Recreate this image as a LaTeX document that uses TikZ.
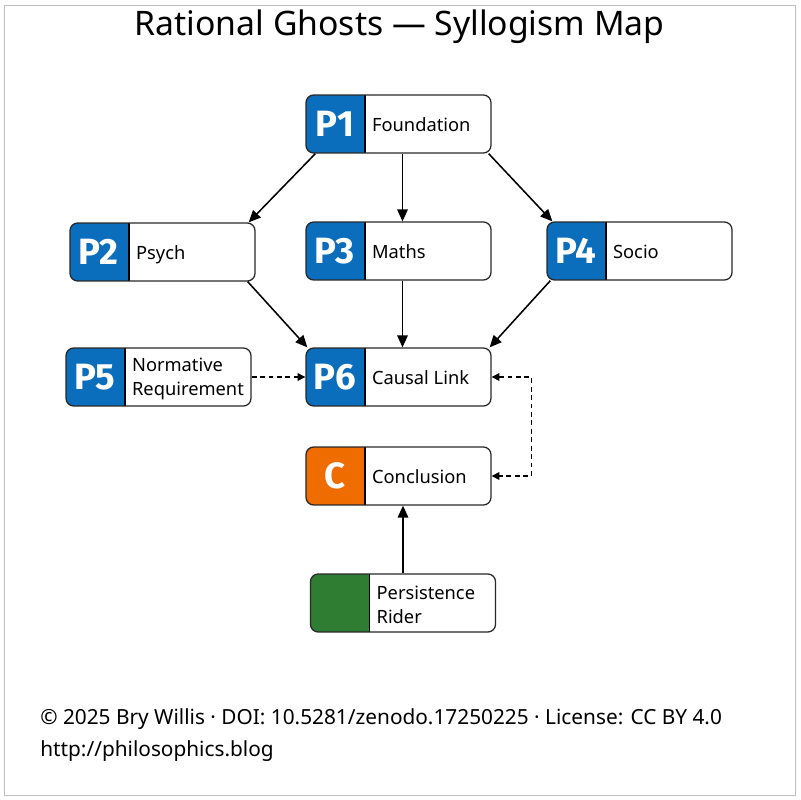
\documentclass[tikz,border=0pt]{standalone}
\usepackage{fontspec}
\setmainfont{Noto Sans}
\newfontfamily\tagfont{Fira Sans}
\usetikzlibrary{arrows.meta,calc}

\definecolor{pblue}{RGB}{10,110,189}
\definecolor{corange}{RGB}{239,108,0}
\definecolor{rgreen}{RGB}{46,125,50}
\definecolor{framegray}{RGB}{191,191,191}
\definecolor{boxline}{RGB}{40,40,40}

\tikzset{
  syl/.style={draw=boxline, line width=0.9pt, fill=white, rounded corners=5.5pt,
    minimum width=4.625cm, minimum height=1.45cm, inner sep=0pt,
    path picture={
      \fill[#1, sharp corners] (path picture bounding box.north west)
        rectangle ([xshift=1.475cm]path picture bounding box.south west);
      \draw[black, line width=0.9pt] ([xshift=1.475cm]path picture bounding box.north west)
        -- ([xshift=1.475cm]path picture bounding box.south west);}},
  tag/.style={text=white, inner sep=0pt, font=\fontsize{26}{30}\tagfont\bfseries},
  txt/.style={anchor=west, inner sep=0pt, text height=9.4pt, text depth=0pt,
    font=\fontsize{13}{17}\selectfont},
  txttwo/.style={anchor=west, align=left, inner sep=0pt, font=\fontsize{13}{17}\selectfont},
  foot/.style={anchor=base west, inner sep=0pt, font=\fontsize{14.8}{17}\selectfont},
  conn/.style={->, line width=1.1pt, >={Triangle[length=8.5pt,width=7.5pt]}},
  dconn/.style={draw, dash pattern=on 3.5pt off 2.5pt, line width=0.8pt,
    >={Triangle[length=5.5pt,width=5.5pt]}},
}

\begin{document}
\begin{tikzpicture}[x=0.025cm,y=-0.025cm]
\fill[white] (0,0) rectangle (800,800);
\useasboundingbox (0,0) rectangle (800,800);
\draw[framegray, line width=0.8pt] (4.5,5.5) rectangle (795.5,795.5);

\node(title) at (399.5,27) {\fontsize{24}{30}\selectfont Rational Ghosts — Syllogism Map};

% premises
\node(p1) at (398.5,124)[syl=pblue] {};
\node(p2) at (162.5,252)[syl=pblue] {};
\node(p3) at (398.5,251)[syl=pblue] {};
\node(p4) at (639.5,251)[syl=pblue] {};
\node(p5) at (158.5,377)[syl=pblue] {};
\node(p6) at (398.5,377)[syl=pblue] {};
\node(c)  at (398.5,476)[syl=corange] {};
\node(pr) at (403,603)[syl=rgreen] {};

\node(p1t) at ($(p1.west)+(29.5,0)$)[tag] {P1};
\node(p2t) at ($(p2.west)+(29.5,0)$)[tag] {P2};
\node(p3t) at ($(p3.west)+(29.5,0)$)[tag] {P3};
\node(p4t) at ($(p4.west)+(29.5,0)$)[tag] {P4};
\node(p5t) at ($(p5.west)+(29.5,0)$)[tag] {P5};
\node(p6t) at ($(p6.west)+(29.5,0)$)[tag] {P6};
\node(ct)  at ($(c.west)+(29.5,0)$)[tag]  {C};

\node(p1l) at ($(p1.west)+(66.5,0.5)$)[txt] {Foundation};
\node(p2l) at ($(p2.west)+(66.5,0.5)$)[txt] {Psych};
\node(p3l) at ($(p3.west)+(66.5,0.5)$)[txt] {Maths};
\node(p4l) at ($(p4.west)+(66.5,0.5)$)[txt] {Socio};
\node(p5l) at ($(p5.west)+(66.5,2)$)[txttwo] {Normative\\Requirement};
\node(p6l) at ($(p6.west)+(66.5,0.5)$)[txt] {Causal Link};
\node(cl)  at ($(c.west)+(66.5,0.5)$)[txt]  {Conclusion};
\node(prl) at ($(pr.west)+(66.5,2)$)[txttwo] {Persistence\\Rider};

\path [conn]
  ($(p1.south west)+(10,0)$)  edge  ($(p2.north east)+(-7,0)$)
  ($(p1.south)+(4,0)$)        edge  ($(p3.north)+(4,0)$)
  ($(p1.south east)+(-3,0)$)  edge  ($(p4.north west)+(6,0)$)
  ($(p2.south east)+(-8,0)$)  edge  ($(p6.north west)+(2,0)$)
  ($(p3.south)+(4,0)$)        edge  ($(p6.north)+(4,0)$)
  ($(p4.south west)+(4,0)$)   edge  ($(p6.north east)+(-2,0)$)
  (pr.north)                  edge  (pr.north |- c.south);

\path [dconn, ->] (p5) -- (p6);
\path [dconn, <->] (p6.east) -- ++(40,0) |- (c.east);

\node(copy) at (40,724)[foot] {© 2025 Bry Willis · DOI: 10.5281/zenodo.17250225 · License: CC BY 4.0};
\node(url)  at (40,756)[foot] {http://philosophics.blog};
\end{tikzpicture}
\end{document}
